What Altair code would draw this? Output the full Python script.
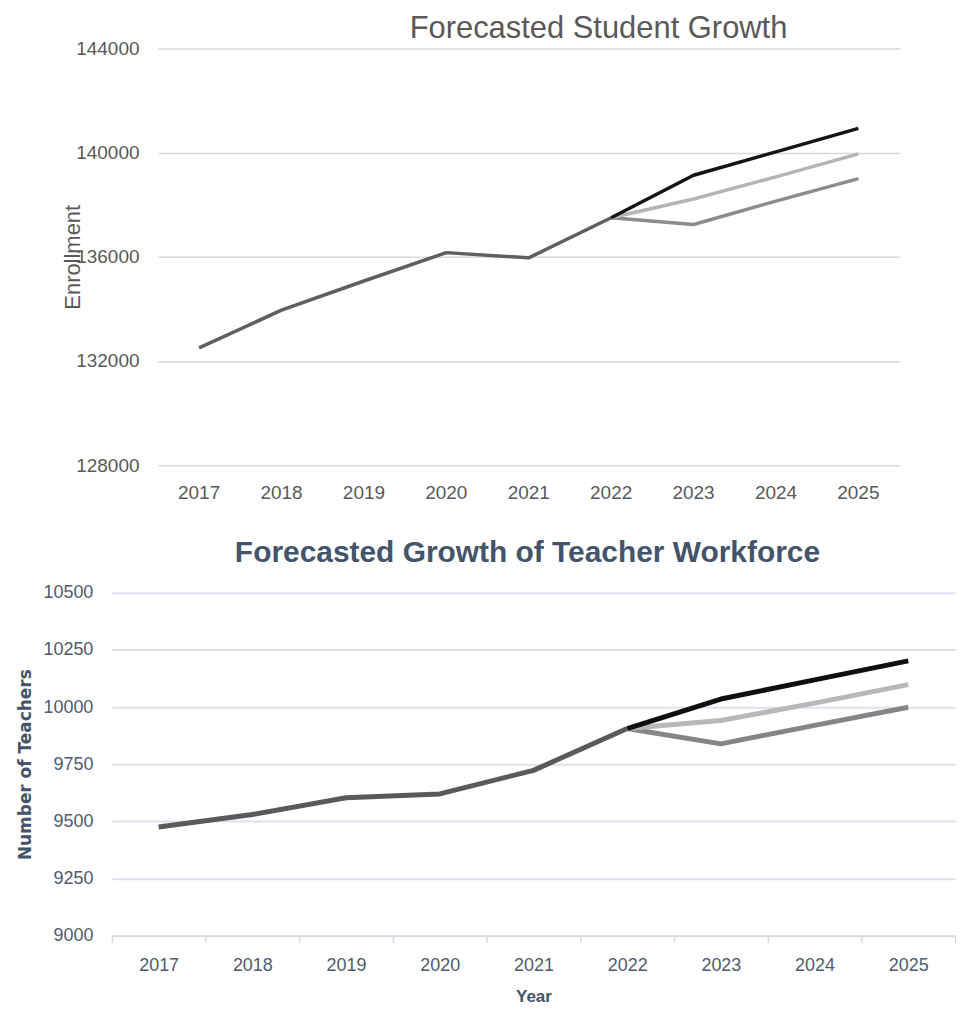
import altair as alt
import pandas as pd

# ---------------- data ----------------
years = ["2017", "2018", "2019", "2020", "2021", "2022", "2023", "2024", "2025"]
hist_years = years[:6]
proj_years = years[5:]

enroll_actual = [132500, 133950, 135070, 136160, 135960, 137500]
enroll_low = [137500, 137240, 138140, 139000]
enroll_mid = [137500, 138220, 139070, 139950]
enroll_high = [137500, 139130, 140030, 140930]
enroll_ticks = [128000, 132000, 136000, 140000, 144000]

teach_actual = [9475, 9530, 9603, 9620, 9723, 9906]
teach_low = [9906, 9839, 9920, 9999]
teach_mid = [9906, 9941, 10017, 10098]
teach_high = [9906, 10035, 10119, 10202]
teach_ticks = [9000, 9250, 9500, 9750, 10000, 10250, 10500]

series_names = ["Actual", "Low projection", "Mid projection", "High projection"]

# ---------------- style ----------------
SANS = "Liberation Sans, Arial, sans-serif"
WIDE = "DejaVu Sans, Verdana, sans-serif"

top_colors = ["#5f5f5f", "#8c8c8c", "#b5b5b5", "#141414"]
bot_colors = ["#5a5a5a", "#858585", "#b8b8b8", "#0f0f0f"]
GREY_TXT = "#595959"
SLATE = "#44546a"
SLATE_LBL = "#4f5b6e"


def frame(xs, ys, name):
    return pd.DataFrame({"Year": xs, "Value": ys, "Series": name})


top_frames = [
    frame(hist_years, enroll_actual, series_names[0]),
    frame(proj_years, enroll_low, series_names[1]),
    frame(proj_years, enroll_mid, series_names[2]),
    frame(proj_years, enroll_high, series_names[3]),
]
bot_frames = [
    frame(hist_years, teach_actual, series_names[0]),
    frame(proj_years, teach_low, series_names[1]),
    frame(proj_years, teach_mid, series_names[2]),
    frame(proj_years, teach_high, series_names[3]),
]

# ---------------- top chart ----------------
x_top = alt.X(
    "Year:O",
    scale=alt.Scale(type="band", domain=years, paddingInner=0, paddingOuter=0),
    axis=alt.Axis(
        title=None, labelAngle=0, domain=False, ticks=False, grid=False,
        labelFont=SANS, labelFontSize=19, labelColor=GREY_TXT, labelPadding=18,
    ),
)
y_top = alt.Y(
    "Value:Q",
    scale=alt.Scale(domain=[128000, 144000], nice=False, zero=False),
    axis=alt.Axis(
        values=enroll_ticks, format="d", title="Enrollment",
        titleFont=SANS, titleFontSize=22, titleFontWeight="normal", titleColor=GREY_TXT,
        titlePadding=-9,
        labelFont=SANS, labelFontSize=19, labelColor=GREY_TXT, labelPadding=19,
        domain=False, ticks=False, grid=True, gridColor="#d9d9d9", gridWidth=1.5,
    ),
)
top_layers = [
    alt.Chart(df).mark_line(color=c, strokeWidth=3.5, strokeJoin="round").encode(x=x_top, y=y_top)
    for df, c in zip(top_frames, top_colors)
]
top = alt.layer(*top_layers).properties(
    width=744, height=418,
    title=alt.TitleParams(
        "Forecasted Student Growth", font=SANS, fontSize=31, fontWeight="normal",
        color=GREY_TXT, anchor="middle", frame="group", dx=70, offset=-6,
    ),
)
# invisible spacer so the top panel sits where it does in the original
spacer = alt.Chart(pd.DataFrame({"v": [0]})).mark_point(opacity=0).properties(width=1, height=1)
top_row = alt.hconcat(top, spacer, spacing=4)

# ---------------- bottom chart ----------------
x_bot = alt.X(
    "Year:O",
    scale=alt.Scale(type="band", domain=years, paddingInner=0, paddingOuter=0),
    axis=alt.Axis(
        title="Year", titleFont=SANS, titleFontSize=17, titleFontWeight="bold",
        titleColor=SLATE, titlePadding=14,
        labelAngle=0, domain=True, domainColor="#d3dae6", domainWidth=1.5,
        ticks=True, tickBand="extent", tickColor="#d3dae6", tickSize=7, tickWidth=1.5,
        grid=False, labelFont=SANS, labelFontSize=18, labelColor=SLATE_LBL, labelPadding=14,
    ),
)
y_bot = alt.Y(
    "Value:Q",
    scale=alt.Scale(domain=[9000, 10500], nice=False, zero=False),
    axis=alt.Axis(
        values=teach_ticks, format="d", title="Number of Teachers",
        titleFont=WIDE, titleFontSize=17, titleFontWeight="bold", titleColor=SLATE,
        titlePadding=8,
        labelFont=SANS, labelFontSize=18, labelColor=SLATE_LBL, labelPadding=19,
        domain=False, ticks=False, grid=True, gridColor="#dce2ec", gridWidth=2,
    ),
)
bot_layers = [
    alt.Chart(df).mark_line(color=c, strokeWidth=5, strokeJoin="round").encode(x=x_bot, y=y_bot)
    for df, c in zip(bot_frames, bot_colors)
]
bottom = alt.layer(*bot_layers).properties(
    width=846, height=344,
    title=alt.TitleParams(
        "Forecasted Growth of Teacher Workforce", font=SANS, fontSize=30, fontWeight="bold",
        color=SLATE, anchor="middle", frame="group", dx=-6, offset=16,
    ),
)

chart = alt.vconcat(top_row, bottom, spacing=36, center=True).properties(
    padding={"left": 9, "top": 4, "right": 0, "bottom": 0}
).configure_view(stroke=None)

chart.save("out.html", embed_options={"renderer": "svg", "actions": False})
